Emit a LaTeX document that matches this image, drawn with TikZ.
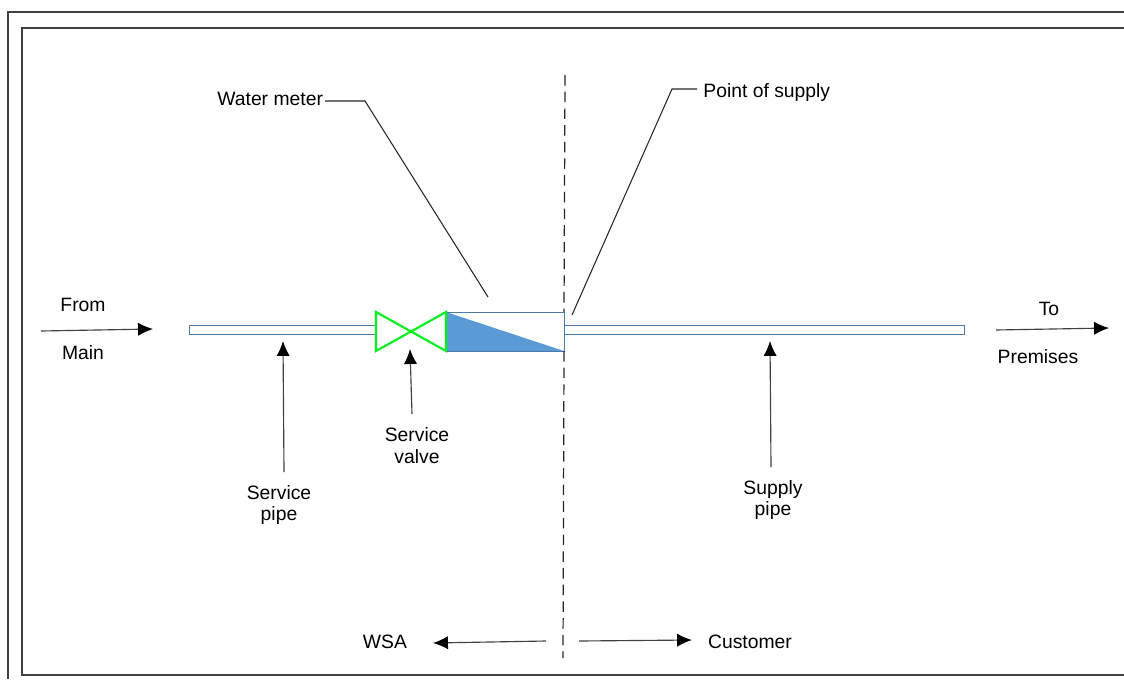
\documentclass[tikz,border=0pt]{standalone}
\usepackage{fontspec}
\setmainfont{Liberation Sans}
\usetikzlibrary{arrows.meta}
\definecolor{pipeblue}{RGB}{75,122,168}
\definecolor{meterblue}{RGB}{91,155,213}
\definecolor{valvegreen}{RGB}{0,240,30}
\tikzset{
    frameline/.style={black!75, line width=0.7pt},
    pipeline/.style={pipeblue, line width=0.55pt},
    leader/.style={black!85, line width=0.6pt},
    divider/.style={black!85, line width=0.7pt, dash pattern=on 6pt off 3.5pt},
    flow/.style={black!75, line width=0.65pt, -{Latex[length=8.5pt,width=7.5pt,black]}},
    lbl/.style={font=\fontsize{11}{12.5}\selectfont, align=center, inner sep=0pt, text=black},
}
\begin{document}
\begin{tikzpicture}[x=0.02cm, y=-0.02cm]
    \useasboundingbox (0,0) rectangle (1124,679);

    % frames
    \draw[frameline] (8,679) -- (8,12) -- (1124,12);
    \draw[frameline] (1124,28) -- (22,28) -- (22,675) -- (1124,675);

    % pipes
    \coordinate (v1) at (376,312);
    \coordinate (v2) at (376,351);
    \coordinate (v3) at (446,312);
    \coordinate (v4) at (446,351);
    \coordinate (m2) at (564,312);
    \coordinate (m3) at (564,351);
    \draw[pipeline] (376,325) -- (189,325) -- (189,334) -- (376,334);
    \draw[pipeline] (564,325) -- (964,325) -- (964,334) -- (564,334);

    % meter and valve
    \fill[meterblue] (v3) -- (m3) -- (v4) -- cycle;
    \draw[pipeline] (v3) rectangle (m3);
    \draw[valvegreen, line width=1.2pt, line join=miter] (v1) -- (v4) -- (v3) -- (v2) -- cycle;

    % point of supply line
    \coordinate (d1) at (565,75);
    \coordinate (d2) at (564,312);
    \coordinate (d3) at (564,351);
    \coordinate (d4) at (563,658);
    \draw[divider] (d1) -- (d2);
    \draw[divider] (d3) -- (d4);

    % labels
    \node[lbl, anchor=west] (meter) at (217,99) {Water meter};
    \node[lbl, anchor=west] (supply) at (703,93) {Point of supply};
    \node[lbl] (from) at (83,305) {From};
    \node[lbl] (main) at (83,353) {Main};
    \node[lbl] (to) at (1049,309) {To};
    \node[lbl] (premises) at (1038,357) {Premises};
    \node[lbl] (spipe) at (279,505) {Service\\pipe};
    \node[lbl] (svalve) at (417,446) {Service\\valve};
    \node[lbl] (sup) at (773,500) {Supply\\pipe};
    \node[lbl] (wsa) at (385,642) {WSA};
    \node[lbl] (cust) at (750,642) {Customer};

    % leaders
    \coordinate (l0) at (325,101);
    \coordinate (l1) at (365,101);
    \coordinate (l2) at (488,297);
    \coordinate (l5) at (697,89);
    \coordinate (l3) at (672,89);
    \coordinate (l4) at (572,315);
    \draw[leader] (l0) -- (l1) -- (l2);
    \draw[leader] (l5) -- (l3) -- (l4);

    % arrows
    \coordinate (a1) at (41,331);
    \coordinate (a2) at (153,329);
    \coordinate (a3) at (996,330);
    \coordinate (a4) at (1109,328);
    \coordinate (a5) at (284,472);
    \coordinate (a6) at (283,341);
    \coordinate (a7) at (412,414);
    \coordinate (a8) at (410,349);
    \coordinate (a9) at (771,467);
    \coordinate (a10) at (770,341);
    \coordinate (a11) at (546,641);
    \coordinate (a12) at (433,643);
    \coordinate (a13) at (579,641);
    \coordinate (a14) at (692,640);
    \foreach \s/\e in {a1/a2,a3/a4,a5/a6,a7/a8,a9/a10,a11/a12,a13/a14}
        \draw[flow] (\s) -- (\e);
\end{tikzpicture}
\end{document}
